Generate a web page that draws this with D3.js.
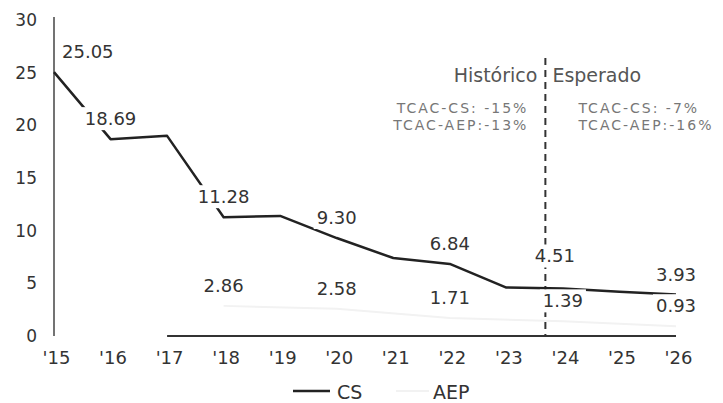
<!DOCTYPE html>
<html>
<head>
<meta charset="utf-8">
<script src="https://cdn.jsdelivr.net/npm/d3@7"></script>
<style>
  body { margin: 0; background: #fff; }
  svg { display: block; font-family: "DejaVu Sans", sans-serif; }
</style>
</head>
<body>
<div id="chart"></div>
<script>
(function () {
    'use strict';

    // data
    var years = [2015, 2016, 2017, 2018, 2019, 2020, 2021, 2022, 2023, 2024, 2025, 2026];
    var csValues = [25.05, 18.69, 19.0, 11.28, 11.4, 9.30, 7.4, 6.84, 4.6, 4.51, 4.2, 3.93];
    var csLabelYears = [2015, 2016, 2018, 2020, 2022, 2024, 2026];
    var aepYears = [2018, 2020, 2022, 2024, 2026];
    var aepValues = [2.86, 2.58, 1.71, 1.39, 0.93];
    var yTicks = [0, 5, 10, 15, 20, 25, 30];
    var xTickLabels = ["'15", "'16", "'17", "'18", "'19", "'20", "'21", "'22", "'23", "'24", "'25", "'26"];
    var splitYear = 2023.69;
    var baselineFrom = 2017;
    var histText = ["TCAC-CS: -15%", "TCAC-AEP:-13%"];
    var expText = ["TCAC-CS: -7%", "TCAC-AEP:-16%"];

    var w = 723,
        h = 403;

    var svg = d3.select('#chart')
        .append("svg")
        .attr("width", w)
        .attr("height", h);

    var x = d3.scaleLinear().domain([2015, 2026]).range([54, 676]),
        y = d3.scaleLinear().domain([0, 30]).range([336, 20]);

    // y axis
    svg.append("g")
        .attr("transform", "translate(" + x(2015) + ",0)")
        .call(d3.axisLeft(y).tickValues(yTicks).tickSize(0).tickPadding(17))
        .call(function (g) {
            g.select(".domain").attr("stroke", "#444").attr("stroke-width", 1.5)
                .attr("d", "M0," + (y(30) - 3) + "V" + y(0));
            g.selectAll("text").attr("font-size", 17).attr("fill", "#333")
                .attr("font-family", "DejaVu Sans, sans-serif");
        });

    // x axis labels
    svg.append("g")
        .attr("transform", "translate(2," + y(0) + ")")
        .call(d3.axisBottom(x).tickValues(years).tickSize(0).tickPadding(15)
            .tickFormat(function (d, i) { return xTickLabels[i]; }))
        .call(function (g) {
            g.select(".domain").remove();
            g.selectAll("text").attr("font-size", 18).attr("fill", "#333")
                .attr("font-family", "DejaVu Sans, sans-serif");
        });

    // baseline
    svg.append("line")
        .attr("x1", x(baselineFrom)).attr("x2", x(2026))
        .attr("y1", y(0)).attr("y2", y(0))
        .attr("stroke", "#333").attr("stroke-width", 2);

    // split line
    svg.append("line")
        .attr("x1", x(splitYear)).attr("x2", x(splitYear))
        .attr("y1", 58).attr("y2", y(0))
        .attr("stroke", "#333").attr("stroke-width", 2)
        .attr("stroke-dasharray", "7,5");

    var line = d3.line()
        .x(function (d) { return x(d[0]); })
        .y(function (d) { return y(d[1]); });

    // AEP (very light, washed out in the scan)
    svg.append("path")
        .datum(d3.zip(aepYears, aepValues))
        .attr("fill", "none")
        .attr("stroke", "#f2f2f2")
        .attr("stroke-width", 2)
        .attr("d", line);

    // CS
    svg.append("path")
        .datum(d3.zip(years, csValues))
        .attr("fill", "none")
        .attr("stroke", "#222")
        .attr("stroke-width", 2.5)
        .attr("stroke-linejoin", "round")
        .attr("d", line);

    // labels with white boxes behind
    var nudge = { 2015: [8, 0, "start"], 2024: [-8, -12, "middle"] };

    function addLabel(xv, yv, txt, dx, dy, anchor) {
        var g = svg.append("g");
        var t = g.append("text")
            .attr("x", x(xv) + dx)
            .attr("y", y(yv) - 14 + dy)
            .attr("text-anchor", anchor)
            .attr("font-size", 18)
            .attr("fill", "#333")
            .text(txt);
        var b = t.node().getBBox();
        g.insert("rect", "text")
            .attr("x", b.x - 3).attr("y", b.y - 1)
            .attr("width", b.width + 6).attr("height", b.height + 2)
            .attr("fill", "#fff");
    }

    csLabelYears.forEach(function (yr) {
        var v = csValues[years.indexOf(yr)];
        var n = nudge[yr] || [0, 0, "middle"];
        addLabel(yr, v, v.toFixed(2), n[0], n[1], n[2]);
    });

    aepYears.forEach(function (yr, i) {
        addLabel(yr, aepValues[i], aepValues[i].toFixed(2), 0, 0, "middle");
    });

    // period annotations
    var xs = x(splitYear);
    svg.append("text")
        .attr("x", xs - 8).attr("y", 82)
        .attr("text-anchor", "end")
        .attr("font-size", 19).attr("fill", "#555")
        .text("Histórico");
    svg.append("text")
        .attr("x", xs + 7).attr("y", 82)
        .attr("font-size", 19).attr("fill", "#555")
        .text("Esperado");

    histText.forEach(function (s, i) {
        svg.append("text")
            .attr("x", xs - 17).attr("y", 113 + i * 17)
            .attr("text-anchor", "end")
            .attr("font-size", 14).attr("letter-spacing", 2).attr("fill", "#777")
            .text(s);
    });
    expText.forEach(function (s, i) {
        svg.append("text")
            .attr("x", xs + 33).attr("y", 113 + i * 17)
            .attr("font-size", 14).attr("letter-spacing", 2).attr("fill", "#777")
            .text(s);
    });

    // legend
    var legend = svg.append("g").attr("transform", "translate(293,391)");
    legend.append("line").attr("x1", 0).attr("x2", 37)
        .attr("stroke", "#222").attr("stroke-width", 2.5);
    legend.append("text").attr("x", 44).attr("y", 8)
        .attr("font-size", 19).attr("fill", "#333").text("CS");
    legend.append("line").attr("x1", 103).attr("x2", 136)
        .attr("stroke", "#f2f2f2").attr("stroke-width", 2);
    legend.append("text").attr("x", 140).attr("y", 8)
        .attr("font-size", 19).attr("fill", "#333").text("AEP");
})();
</script>
</body>
</html>
